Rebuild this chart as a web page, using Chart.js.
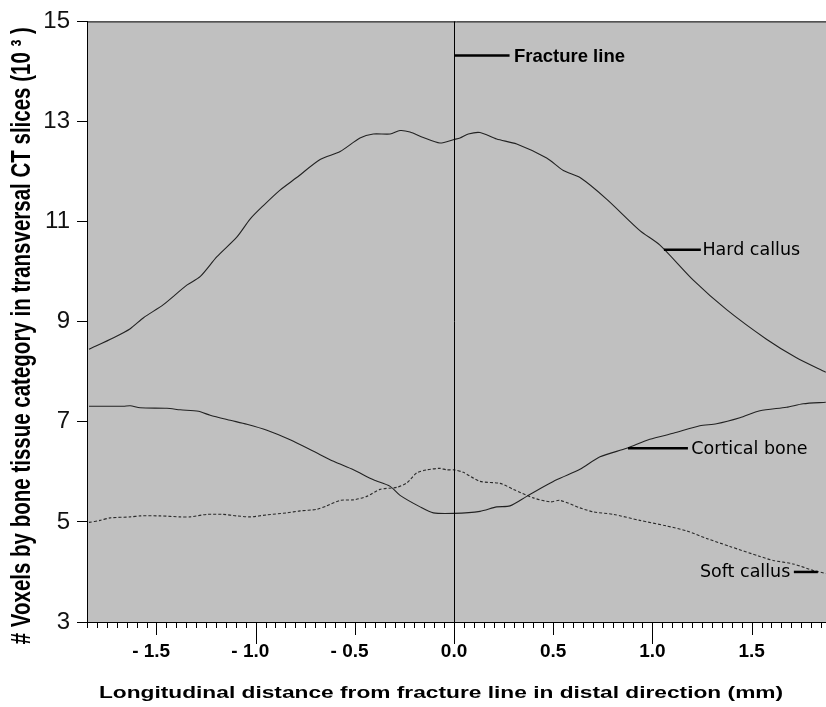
<!DOCTYPE html>
<html>
<head>
<meta charset="utf-8">
<script src="https://cdn.jsdelivr.net/npm/chart.js@4.4.1/dist/chart.umd.min.js"></script>
<style>
  html, body { margin: 0; padding: 0; background: #ffffff; }
  #wrap { width: 826px; height: 707px; position: relative; }
</style>
</head>
<body>
<div id="wrap"><canvas id="c" width="826" height="707"></canvas></div>
<script>
// ---- Data ----
const hardX = [-1.84, -1.716, -1.632, -1.565, -1.465, -1.347, -1.28, -1.195, -1.095, -1.028, -0.961, -0.877, -0.793, -0.675, -0.574, -0.474, -0.407, -0.322, -0.272, -0.222, -0.155, -0.071, 0, 0.03, 0.072, 0.131, 0.215, 0.316, 0.467, 0.551, 0.635, 0.769, 0.937, 1.038, 1.206, 1.374, 1.575, 1.726, 1.874];
const hardY = [8.45, 8.68, 8.86, 9.08, 9.34, 9.73, 9.90, 10.30, 10.69, 11.05, 11.32, 11.63, 11.88, 12.24, 12.40, 12.67, 12.75, 12.75, 12.82, 12.79, 12.68, 12.57, 12.64, 12.67, 12.75, 12.78, 12.65, 12.55, 12.27, 12.02, 11.88, 11.45, 10.82, 10.53, 9.83, 9.24, 8.65, 8.28, 7.99];

const corticalX = [-1.84, -1.666, -1.632, -1.582, -1.447, -1.38, -1.288, -1.229, -1.128, -1.044, -0.943, -0.826, -0.708, -0.607, -0.507, -0.406, -0.322, -0.272, -0.171, -0.104, 0, 0.131, 0.215, 0.282, 0.366, 0.517, 0.635, 0.736, 0.870, 0.987, 1.105, 1.239, 1.323, 1.441, 1.542, 1.676, 1.760, 1.874];
const corticalY = [7.31, 7.31, 7.32, 7.28, 7.27, 7.24, 7.21, 7.13, 7.03, 6.95, 6.83, 6.64, 6.41, 6.21, 6.04, 5.84, 5.71, 5.53, 5.30, 5.18, 5.17, 5.21, 5.30, 5.32, 5.51, 5.84, 6.05, 6.30, 6.47, 6.65, 6.77, 6.92, 6.96, 7.08, 7.22, 7.29, 7.36, 7.39];

const softX = [-1.84, -1.784, -1.733, -1.632, -1.582, -1.481, -1.380, -1.330, -1.246, -1.162, -1.095, -1.028, -0.943, -0.843, -0.776, -0.692, -0.642, -0.574, -0.507, -0.440, -0.373, -0.289, -0.238, -0.188, -0.138, -0.071, -0.037, 0.0, 0.047, 0.131, 0.232, 0.299, 0.400, 0.484, 0.534, 0.635, 0.702, 0.803, 0.937, 1.071, 1.172, 1.273, 1.390, 1.542, 1.609, 1.710, 1.810, 1.874];
const softY = [4.99, 5.03, 5.08, 5.10, 5.12, 5.12, 5.10, 5.10, 5.15, 5.15, 5.12, 5.10, 5.14, 5.18, 5.22, 5.25, 5.32, 5.43, 5.44, 5.51, 5.65, 5.69, 5.78, 5.98, 6.04, 6.07, 6.04, 6.04, 5.99, 5.81, 5.77, 5.65, 5.48, 5.40, 5.43, 5.28, 5.20, 5.15, 5.03, 4.92, 4.82, 4.67, 4.51, 4.31, 4.23, 4.16, 4.03, 3.97];

const xTickValues = [-1.5, -1.0, -0.5, 0.0, 0.5, 1.0, 1.5];
const xTickLabels = ['- 1.5  ', '- 1.0  ', '- 0.5  ', '0.0', '0.5', '1.0', '1.5'];
const yTickValues = [3, 5, 7, 9, 11, 13, 15];
const yTickLabels = ['3', '5', '7', '9', '11', '13', '15'];

const seriesNames = ['Hard callus', 'Cortical bone', 'Soft callus'];
const fractureLabel = 'Fracture line';
const xTitle = 'Longitudinal distance from fracture line in distal direction (mm)';
const yTitle = '# Voxels by bone tissue category in transversal CT slices (10 \u00B3 )';

// label callouts in data units: [text, lineStartX, lineEndX, y, textX, align]
const callouts = [
  [fractureLabel, 0.0, 0.28, 14.32, 0.302, 'left'],
  [seriesNames[0], 1.058, 1.244, 10.44, 1.252, 'left'],
  [seriesNames[1], 0.877, 1.179, 6.47, 1.196, 'left'],
  [seriesNames[2], 1.713, 1.834, 4.00, 1.695, 'right']
];

const toPts = (xs, ys) => xs.map((x, i) => ({ x: x, y: ys[i] }));

const plotDeco = {
  id: 'plotDeco',
  beforeDraw(chart) {
    const { ctx, chartArea: a } = chart;
    ctx.save();
    ctx.fillStyle = '#c0c0c0';
    ctx.fillRect(a.left, a.top, a.right - a.left, a.bottom - a.top);
    ctx.restore();
  },
  afterDraw(chart) {
    const { ctx, chartArea: a, scales } = chart;
    const xs = scales.x, ys = scales.y;
    ctx.save();
    // top border
    ctx.strokeStyle = '#000';
    ctx.lineWidth = 1;
    ctx.beginPath();
    ctx.moveTo(a.left, a.top + 0.5);
    ctx.lineTo(a.right, a.top + 0.5);
    ctx.stroke();
    // fracture line (vertical at x = 0)
    const x0 = Math.round(xs.getPixelForValue(0)) + 0.5;
    ctx.beginPath();
    ctx.moveTo(x0, a.top);
    ctx.lineTo(x0, a.bottom);
    ctx.stroke();
    // x tick marks: minor every 0.05, medium at 0.5, long at integers
    for (let k = -37; k <= 37; k++) {
      const v = k * 0.05;
      const px = xs.getPixelForValue(v);
      if (px < a.left - 0.5 || px > a.right + 0.5) continue;
      let len = 6;
      if (k % 20 === 0) len = 22;
      else if (k % 10 === 0) len = 13;
      const xx = Math.round(px) + 0.5;
      ctx.beginPath();
      ctx.moveTo(xx, a.bottom);
      ctx.lineTo(xx, a.bottom + len);
      ctx.stroke();
    }
    // callouts
    callouts.forEach(([text, x1, x2, y, tx, align], i) => {
      const py = ys.getPixelForValue(y);
      ctx.lineWidth = 2.5;
      ctx.strokeStyle = '#000';
      ctx.beginPath();
      ctx.moveTo(xs.getPixelForValue(x1), py);
      ctx.lineTo(xs.getPixelForValue(x2), py);
      ctx.stroke();
      ctx.fillStyle = '#000';
      ctx.textBaseline = 'middle';
      ctx.textAlign = align;
      ctx.font = i === 0 ? 'bold 18.5px "Liberation Sans", Arial, sans-serif' : '17.5px "DejaVu Sans", Verdana, sans-serif';
      ctx.fillText(text, xs.getPixelForValue(tx), py + 1);
    });
    // axis titles (the source figure is horizontally stretched)
    ctx.fillStyle = '#000';
    ctx.textAlign = 'center';
    ctx.textBaseline = 'middle';
    ctx.save();
    ctx.translate(441, xs.bottom - 13);
    ctx.scale(1.42, 1);
    ctx.font = 'bold 16px "Liberation Sans", Arial, sans-serif';
    ctx.fillText(xTitle, 0, 0);
    ctx.restore();
    ctx.save();
    ctx.translate(ys.left + 22, (a.top + a.bottom) / 2 + 14);
    ctx.scale(1.35, 1);
    ctx.rotate(-Math.PI / 2);
    ctx.font = 'bold 20.5px "Liberation Sans", Arial, sans-serif';
    ctx.fillText(yTitle, 0, 0);
    ctx.restore();
    ctx.restore();
  }
};

new Chart(document.getElementById('c'), {
  type: 'line',
  data: {
    datasets: [
      { label: seriesNames[0], data: toPts(hardX, hardY), borderColor: '#222222', borderWidth: 1.1, pointRadius: 0, tension: 0.25, fill: false },
      { label: seriesNames[1], data: toPts(corticalX, corticalY), borderColor: '#222222', borderWidth: 1.1, pointRadius: 0, tension: 0.25, fill: false },
      { label: seriesNames[2], data: toPts(softX, softY), borderColor: '#2a2a2a', borderWidth: 1.1, borderDash: [3, 2], pointRadius: 0, tension: 0.25, fill: false }
    ]
  },
  options: {
    responsive: false,
    animation: false,
    events: [],
    layout: { padding: { top: 15, right: 0, left: 0, bottom: 0 } },
    plugins: { legend: { display: false }, tooltip: { enabled: false }, title: { display: false } },
    scales: {
      x: {
        type: 'linear',
        min: -1.85,
        max: 1.875,
        afterBuildTicks: (s) => { s.ticks = xTickValues.map(v => ({ value: v })); },
        afterFit: (s) => { s.height = 85; },
        grid: { display: false, drawTicks: false },
        border: { display: true, color: '#000', width: 1 },
        ticks: {
          autoSkip: false,
          maxRotation: 0,
          padding: 18,
          color: '#000',
          font: { family: '"Liberation Sans", Arial, sans-serif', size: 19, weight: 'bold' },
          callback: (v) => { const i = xTickValues.indexOf(Math.round(v * 10) / 10); return i >= 0 ? xTickLabels[i] : ''; }
        },
        title: { display: false }
      },
      y: {
        type: 'linear',
        min: 3,
        max: 15,
        afterBuildTicks: (s) => { s.ticks = yTickValues.map(v => ({ value: v })); },
        afterFit: (s) => { s.width = 87; },
        grid: { display: true, drawOnChartArea: false, drawTicks: true, tickLength: 10, tickColor: '#000' },
        border: { display: true, color: '#000', width: 1 },
        ticks: {
          padding: 7,
          color: '#111',
          font: { family: '"Liberation Sans", Arial, sans-serif', size: 24 },
          callback: (v) => { const i = yTickValues.indexOf(v); return i >= 0 ? yTickLabels[i] : ''; }
        },
        title: { display: false }
      }
    }
  },
  plugins: [plotDeco]
});
</script>
</body>
</html>
